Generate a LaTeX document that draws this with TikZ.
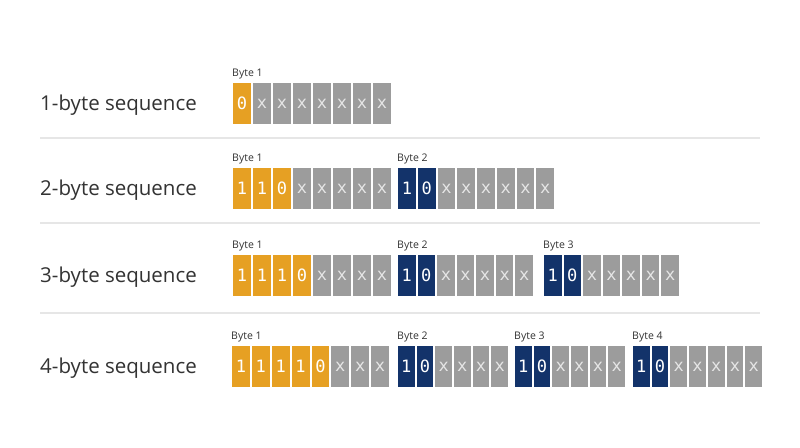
\documentclass[tikz,border=0pt]{standalone}
\usepackage{fontspec}
\setmainfont{Open Sans}
\newfontfamily\bitfont{DejaVu Sans Mono}
\definecolor{uorange}{HTML}{E6A023}
\definecolor{unavy}{HTML}{13336A}
\definecolor{ugray}{HTML}{9C9C9C}
\definecolor{usep}{HTML}{E6E6E6}
\definecolor{utext}{HTML}{333333}
\definecolor{ux}{HTML}{E6E6E6}
\tikzset{
  cell/.style={inner sep=0pt, minimum height=41pt, draw=none, font=\bitfont\fontsize{17}{17}\selectfont},
  rowlabel/.style={anchor=base west, inner sep=0pt, text=utext, font=\fontsize{20.5}{24}\selectfont},
  bytelabel/.style={anchor=base west, inner sep=0pt, text=utext, font=\fontsize{10.5}{12}\selectfont},
  sepline/.style={draw=usep, line width=1.5pt}
}
% #1 name, #2 x0, #3 x1, #4 top, #5 count, #6 bits, #7 colour, #8 label
\newcommand\bytecells[8]{%
  \pgfmathsetmacro\cw{(#3-#2)/#5}%
  \pgfmathsetmacro\mw{\cw-2}%
  \node[bytelabel] (#1lab) at (#2,#4-7) {#8};
  \foreach \b [count=\i] in {#6} {%
    \pgfmathsetmacro\cx{#2+(\i-0.5)*\cw}%
    \if\b x
      \node[cell, fill=ugray, text=ux, minimum width=\mw pt] (#1c\i) at (\cx,#4+20.5) {x};
    \else
      \node[cell, fill=#7, text=white, minimum width=\mw pt] (#1c\i) at (\cx,#4+20.5) {\b};
    \fi
  }%
}
\begin{document}
\begin{tikzpicture}[x=1pt,y=-1pt]
\useasboundingbox (0,0) rectangle (800,447);
\fill[white] (0,0) rectangle (800,447);

% row labels
\node[rowlabel] (l1) at (40,110.5) {1-byte sequence};
\node[rowlabel] (l2) at (40,195.5) {2-byte sequence};
\node[rowlabel] (l3) at (40,282.5) {3-byte sequence};
\node[rowlabel] (l4) at (40,373.5) {4-byte sequence};

% separators
\coordinate (s1a) at (40,138); \coordinate (s1b) at (760,138);
\coordinate (s2a) at (40,223); \coordinate (s2b) at (760,223);
\coordinate (s3a) at (40,313); \coordinate (s3b) at (760,313);
\draw[sepline] (s1a) -- (s1b);
\draw[sepline] (s2a) -- (s2b);
\draw[sepline] (s3a) -- (s3b);

% row 1
\bytecells{ra}{232}{392}{83}{8}{0,x,x,x,x,x,x,x}{uorange}{Byte 1}
% row 2
\bytecells{rba}{232}{392}{168}{8}{1,1,0,x,x,x,x,x}{uorange}{Byte 1}
\bytecells{rbb}{397}{555}{168}{8}{1,0,x,x,x,x,x,x}{unavy}{Byte 2}
% row 3
\bytecells{rca}{232}{392}{255}{8}{1,1,1,0,x,x,x,x}{uorange}{Byte 1}
\bytecells{rcb}{397}{534}{255}{7}{1,0,x,x,x,x,x}{unavy}{Byte 2}
\bytecells{rcc}{543}{680}{255}{7}{1,0,x,x,x,x,x}{unavy}{Byte 3}
% row 4
\bytecells{rda}{231}{390}{346}{8}{1,1,1,1,0,x,x,x}{uorange}{Byte 1}
\bytecells{rdb}{397}{509}{346}{6}{1,0,x,x,x,x}{unavy}{Byte 2}
\bytecells{rdc}{514}{626}{346}{6}{1,0,x,x,x,x}{unavy}{Byte 3}
\bytecells{rdd}{632}{763}{346}{7}{1,0,x,x,x,x,x}{unavy}{Byte 4}
\end{tikzpicture}
\end{document}
